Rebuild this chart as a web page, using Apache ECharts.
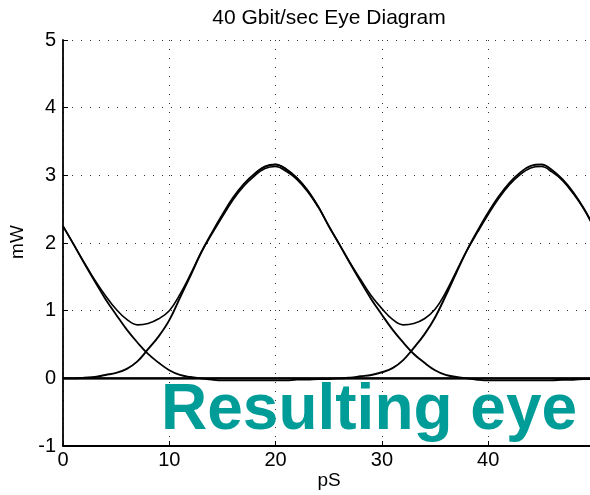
<!DOCTYPE html>
<html><head><meta charset="utf-8">
<script src="https://cdn.jsdelivr.net/npm/echarts@6/dist/echarts.min.js"></script>
<style>html,body{margin:0;padding:0;background:#fff}#c{width:590px;height:495px}</style>
</head><body><div id="c"></div>
<script>
// time axis (ps)
const xs = [0,1,2,3,4,5,6,7,8,9,10,11,12,13,14,15,16,17,18,19,20,21,22,23,24,25,26,27,28,29,30,31,32,33,34,35,36,37,38,39,40,41,42,43,44,45,46,47,48,49,50];
// "0" level trace (mW)
const zeroLevel = [0,0,0,0,0,0,0,0,0,0,0,0,0,0,0,0,0,0,0,0,0,0,0,0,0,0,0,0,0,0,0,0,0,0,0,0,0,0,0,0,0,0,0,0,0,0,0,0,0,0,0];
// tail of previous pulse (peak before 0 ps)
const pulseA = [2.25,1.98,1.70,1.43,1.17,0.94,0.72,0.53,0.36,0.23,0.12,0.05,0.02,0.00,-0.02,-0.03,-0.03,-0.03,-0.03,-0.03,-0.03,-0.03,-0.02,-0.02,-0.01,-0.01,0,0,0,0,0,0,0,0,0,0,0,0,0,0,0,0,0,0,0,0,0,0,0,0,0];
// single pulse peaking near 20 ps
const pulseB = [0.00,0.00,0.01,0.02,0.05,0.08,0.14,0.25,0.43,0.62,0.86,1.19,1.52,1.86,2.15,2.42,2.67,2.87,3.02,3.13,3.16,3.09,2.96,2.78,2.54,2.25,1.98,1.70,1.43,1.17,0.94,0.72,0.53,0.36,0.23,0.12,0.05,0.02,0.00,-0.02,-0.03,-0.03,-0.03,-0.03,-0.03,-0.03,-0.03,-0.02,-0.02,-0.01,-0.01];
// next pulse peaking near 45 ps
const pulseC = [0,0,0,0,0,0,0,0,0,0,0,0,0,0,0,0,0,0,0,0,0,0,0,0,0,0,0.00,0.01,0.03,0.05,0.09,0.15,0.27,0.45,0.65,0.90,1.22,1.56,1.89,2.18,2.45,2.69,2.89,3.04,3.14,3.16,3.08,2.94,2.75,2.51,2.22];
// "1 1" traces (adjacent pulses)
const sumAB = [2.25,1.98,1.71,1.45,1.22,1.02,0.87,0.79,0.81,0.88,1.00,1.24,1.54,1.86,2.13,2.39,2.64,2.84,2.99,3.10,3.13,3.06,2.94,2.76,2.53,null,null,null,null,null,null,null,null,null,null,null,null,null,null,null,null,null,null,null,null,null,null,null,null,null,null];
const sumBC = [null,null,null,null,null,null,null,null,null,null,null,null,null,null,null,null,null,null,3.02,3.13,3.16,3.09,2.96,2.78,2.54,2.25,1.98,1.71,1.46,1.22,1.03,0.87,0.79,0.81,0.88,1.02,1.27,1.58,1.89,2.16,2.42,2.66,2.86,3.01,3.11,3.13,3.05,2.92,2.73,2.50,2.21];

const chartTitle = '40 Gbit/sec Eye Diagram';
const xName = 'pS';
const yName = 'mW';
const overlayText = 'Resulting eye';

const FONT = '"Liberation Sans", Arial, Helvetica, sans-serif';
const chart = echarts.init(document.getElementById('c'), null, {renderer: 'canvas'});
const toPts = arr => xs.map((x, i) => [x, arr[i]]);
const lineSeries = (arr, w) => ({
  type: 'line', data: toPts(arr), smooth: 0.4, symbol: 'none', showSymbol: false,
  lineStyle: {color: '#000', width: w}, clip: true, silent: true, connectNulls: false, z: 3
});

const option = {
  animation: false,
  grid: {left: 63, top: 40, width: 531.5, height: 406, containLabel: false, outerBoundsMode: 'none'},
  xAxis: {
    type: 'value', min: 0, max: 50, interval: 10,
    axisLine: {onZero: false, lineStyle: {color: '#000', width: 1.8}},
    axisTick: {inside: true, length: 5, lineStyle: {color: '#000', width: 1}},
    axisLabel: {color: '#000', fontSize: 20, fontFamily: FONT, margin: 4, showMaxLabel: false},
    splitLine: {show: true, lineStyle: {color: '#333', width: 1, type: [1, 8]}}
  },
  yAxis: {
    type: 'value', min: -1, max: 5, interval: 1,
    axisLine: {onZero: false, lineStyle: {color: '#000', width: 1.8}},
    axisTick: {inside: true, length: 5, lineStyle: {color: '#000', width: 1}},
    axisLabel: {color: '#000', fontSize: 20, fontFamily: FONT, margin: 7},
    splitLine: {show: true, lineStyle: {color: '#333', width: 1, type: [1, 8]}}
  },
  series: [
    lineSeries(zeroLevel, 2.2),
    lineSeries(pulseA, 1.8),
    lineSeries(pulseB, 1.9),
    lineSeries(pulseC, 1.9),
    lineSeries(sumAB, 1.6),
    lineSeries(sumBC, 1.6)
  ],
  graphic: [
    {type: 'text', x: 329, y: 18, z: 100, style: {text: chartTitle, font: '21px ' + FONT, fill: '#000', align: 'center', verticalAlign: 'middle', textAlign: 'center', textVerticalAlign: 'middle'}},
    {type: 'text', x: 329, y: 481, z: 100, style: {text: xName, font: '19px ' + FONT, fill: '#000', align: 'center', verticalAlign: 'middle', textAlign: 'center', textVerticalAlign: 'middle'}},
    {type: 'text', x: 18, y: 242, rotation: Math.PI / 2, z: 100, style: {text: yName, font: '19px ' + FONT, fill: '#000', align: 'center', verticalAlign: 'middle', textAlign: 'center', textVerticalAlign: 'middle'}},
    {type: 'text', x: 161, y: 411, z: 100, style: {text: overlayText, font: 'bold 64px ' + FONT, fill: '#009C98', align: 'left', verticalAlign: 'middle', textAlign: 'left', textVerticalAlign: 'middle'}}
  ]
};
chart.setOption(option);
</script>
</body></html>
